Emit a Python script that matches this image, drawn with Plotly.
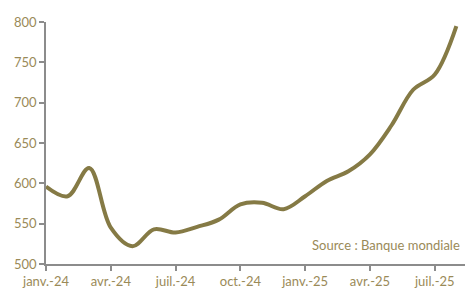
import plotly.graph_objects as go

months = ["janv.-24", "févr.-24", "mars-24", "avr.-24", "mai-24", "juin-24", "juil.-24",
          "août-24", "sept.-24", "oct.-24", "nov.-24", "déc.-24", "janv.-25", "févr.-25",
          "mars-25", "avr.-25", "mai-25", "juin-25", "juil.-25", "août-25"]
values = [596, 584, 619, 545, 522, 543, 539, 546, 555, 574, 576, 568, 584, 603,
          615, 636, 672, 716, 735, 795]
tick_labels = ["janv.-24", "avr.-24", "juil.-24", "oct.-24", "janv.-25", "avr.-25", "juil.-25"]
y_ticks = [500, 550, 600, 650, 700, 750, 800]

x_idx = list(range(len(months)))
tick_pos = [months.index(t) for t in tick_labels]

label_color = "#9a8a58"
line_color = "#857a45"

fig = go.Figure(go.Scatter(
    x=x_idx, y=values, mode="lines",
    line=dict(color=line_color, width=4, shape="spline", smoothing=1.0),
    hoverinfo="skip"))

# page body has an 8px margin: size the figure so it fits the 473x292 window
fig.update_layout(
    width=465, height=284,
    margin=dict(l=38, r=0, t=14, b=28),
    paper_bgcolor="white", plot_bgcolor="white",
    showlegend=False,
    font=dict(family="Lato, Open Sans, sans-serif", size=13, color=label_color),
    xaxis=dict(range=[0, 19.77], tickvals=tick_pos, ticktext=tick_labels,
               automargin=False,
               showgrid=False, zeroline=False, showline=True, linecolor="#8c8c8c",
               linewidth=1.5, ticks="outside", ticklen=5, tickcolor="#8c8c8c",
               tickwidth=1.5, tickfont=dict(size=13, color=label_color)),
    yaxis=dict(range=[500, 800], tickvals=y_ticks, showgrid=False, zeroline=False,
               automargin=False,
               showline=True, linecolor="#8c8c8c", linewidth=1.5, ticks="outside",
               ticklen=5, tickcolor="#8c8c8c", tickwidth=1.5,
               tickfont=dict(size=13, color=label_color)),
    annotations=[dict(text="Source : Banque mondiale", xref="paper", yref="paper",
                      x=0.974, y=0.0785, xanchor="right", yanchor="middle",
                      showarrow=False, font=dict(size=13, color=label_color))],
)

fig.write_html("out.html")
